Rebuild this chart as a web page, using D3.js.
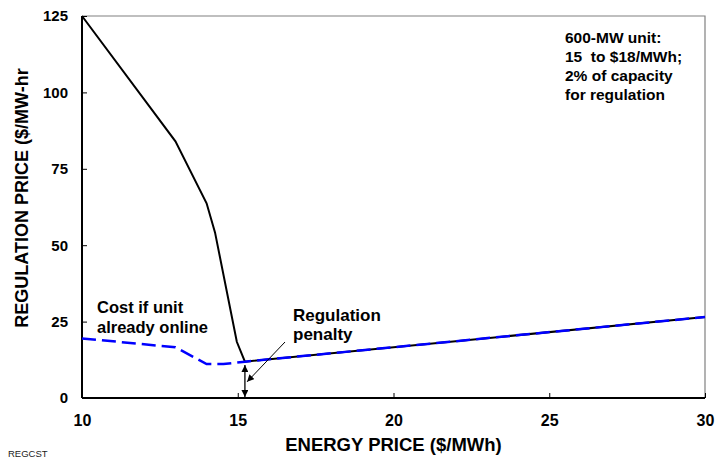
<!DOCTYPE html>
<html>
<head>
<meta charset="utf-8">
<script src="https://cdn.jsdelivr.net/npm/d3@7"></script>
<style>
  body { margin: 0; background: #fff; }
  text { font-family: Arial, "Liberation Sans", sans-serif; }
</style>
</head>
<body>
<svg id="chart"></svg>
<script>
const width = 717;
const height = 458;

// reference curves
const blackX = [10, 13, 14, 14.27, 14.97, 15.23, 30];
const blackY = [125, 84, 63.7, 54.2, 18.4, 11.9, 26.5];
const blueX = [10, 13, 14, 14.54, 15.23, 30];
const blueY = [19.5, 16.6, 11.1, 11.1, 11.9, 26.5];

const xTicks = [10, 15, 20, 25, 30];
const yTicks = [0, 25, 50, 75, 100, 125];
const noteLines = ["600-MW unit:", "15  to $18/MWh;", "2% of capacity", "for regulation"];
const costLines = ["Cost if unit", "already online"];
const penaltyLines = ["Regulation", "penalty"];

const svg = d3.select("#chart")
    .attr("width", width)
    .attr("height", height);

const x = d3.scaleLinear().domain([10, 30]).range([82, 705]);
const y = d3.scaleLinear().domain([0, 125]).range([398, 16]);

// arrow heads
const defs = svg.append("defs");
defs.append("marker")
    .attr("id", "head")
    .attr("viewBox", "0 0 10 10")
    .attr("refX", 10).attr("refY", 5)
    .attr("markerWidth", 7).attr("markerHeight", 7)
    .attr("markerUnits", "userSpaceOnUse")
    .attr("orient", "auto-start-reverse")
    .append("path")
    .attr("d", "M0,0 L10,5 L0,10 Z")
    .attr("fill", "#000");

// grey frame top / right
svg.append("path")
    .attr("d", `M${x(10)},${y(125)} H${x(30)} V${y(0)}`)
    .attr("fill", "none")
    .attr("stroke", "#808080")
    .attr("stroke-width", 1.2);

// axes
const xAxis = svg.append("g")
    .attr("transform", `translate(0,${y(0)})`)
    .call(d3.axisBottom(x).tickValues(xTicks).tickSize(-5).tickPadding(17));
const yAxis = svg.append("g")
    .attr("transform", `translate(${x(10)},0)`)
    .call(d3.axisLeft(y).tickValues(yTicks).tickSize(-5).tickPadding(14));

[xAxis, yAxis].forEach(g => {
    g.select(".domain").attr("stroke", "#000").attr("stroke-width", 2);
    g.selectAll(".tick line").attr("stroke", "#000").attr("stroke-width", 1);
    g.selectAll(".tick text")
        .attr("font-family", "Arial, 'Liberation Sans', sans-serif")
        .attr("font-weight", "bold")
        .attr("fill", "#000");
});
xAxis.selectAll(".tick text").attr("font-size", 16);
yAxis.selectAll(".tick text").attr("font-size", 15);
xAxis.select(".domain").attr("d", `M${x(10)},0H${x(30)}`);
yAxis.select(".domain").attr("d", `M0,${y(0)}V${y(125)}`);

const line = d3.line().x(d => x(d[0])).y(d => y(d[1]));

// black curve
svg.append("path")
    .datum(d3.zip(blackX, blackY))
    .attr("d", line)
    .attr("fill", "none")
    .attr("stroke", "#000")
    .attr("stroke-width", 2);

// blue dashed curve
svg.append("path")
    .datum(d3.zip(blueX, blueY))
    .attr("d", line)
    .attr("fill", "none")
    .attr("stroke", "#0000ff")
    .attr("stroke-width", 2.5)
    .attr("stroke-dasharray", "14,6");

// regulation penalty double arrow
svg.append("line")
    .attr("x1", x(15.23)).attr("y1", y(0) - 1)
    .attr("x2", x(15.23)).attr("y2", y(10.8))
    .attr("stroke", "#000")
    .attr("stroke-width", 1.3)
    .attr("marker-start", "url(#head)")
    .attr("marker-end", "url(#head)");

// pointer line from label
svg.append("line")
    .attr("x1", 285).attr("y1", 342)
    .attr("x2", x(15.3)).attr("y2", y(5.3))
    .attr("stroke", "#000")
    .attr("stroke-width", 1)
    .attr("marker-end", "url(#head)");

// text blocks
function addLines(lines, x0, y0, dy, size) {
    svg.append("g").selectAll("text")
        .data(lines)
        .join("text")
        .attr("x", x0)
        .attr("y", (d, i) => y0 + i * dy)
        .attr("font-size", size)
        .attr("font-weight", "bold")
        .attr("fill", "#000")
        .attr("xml:space", "preserve")
        .style("white-space", "pre")
        .text(d => d);
}
addLines(noteLines, 565, 43, 18.9, 15.5);
addLines(costLines, 97, 313, 20, 16.5);
addLines(penaltyLines, 293, 320.5, 19.5, 17);

// axis titles
svg.append("text")
    .attr("x", (x(10) + x(30)) / 2)
    .attr("y", 451)
    .attr("text-anchor", "middle")
    .attr("font-size", 18.5)
    .attr("font-weight", "bold")
    .text("ENERGY PRICE ($/MWh)");

svg.append("text")
    .attr("transform", "translate(28,198) rotate(-90)")
    .attr("text-anchor", "middle")
    .attr("font-size", 18)
    .attr("font-weight", "bold")
    .text("REGULATION PRICE ($/MW-hr");

svg.append("text")
    .attr("x", 8)
    .attr("y", 456.5)
    .attr("font-size", 9.5)
    .attr("fill", "#222")
    .text("REGCST");
</script>
</body>
</html>
